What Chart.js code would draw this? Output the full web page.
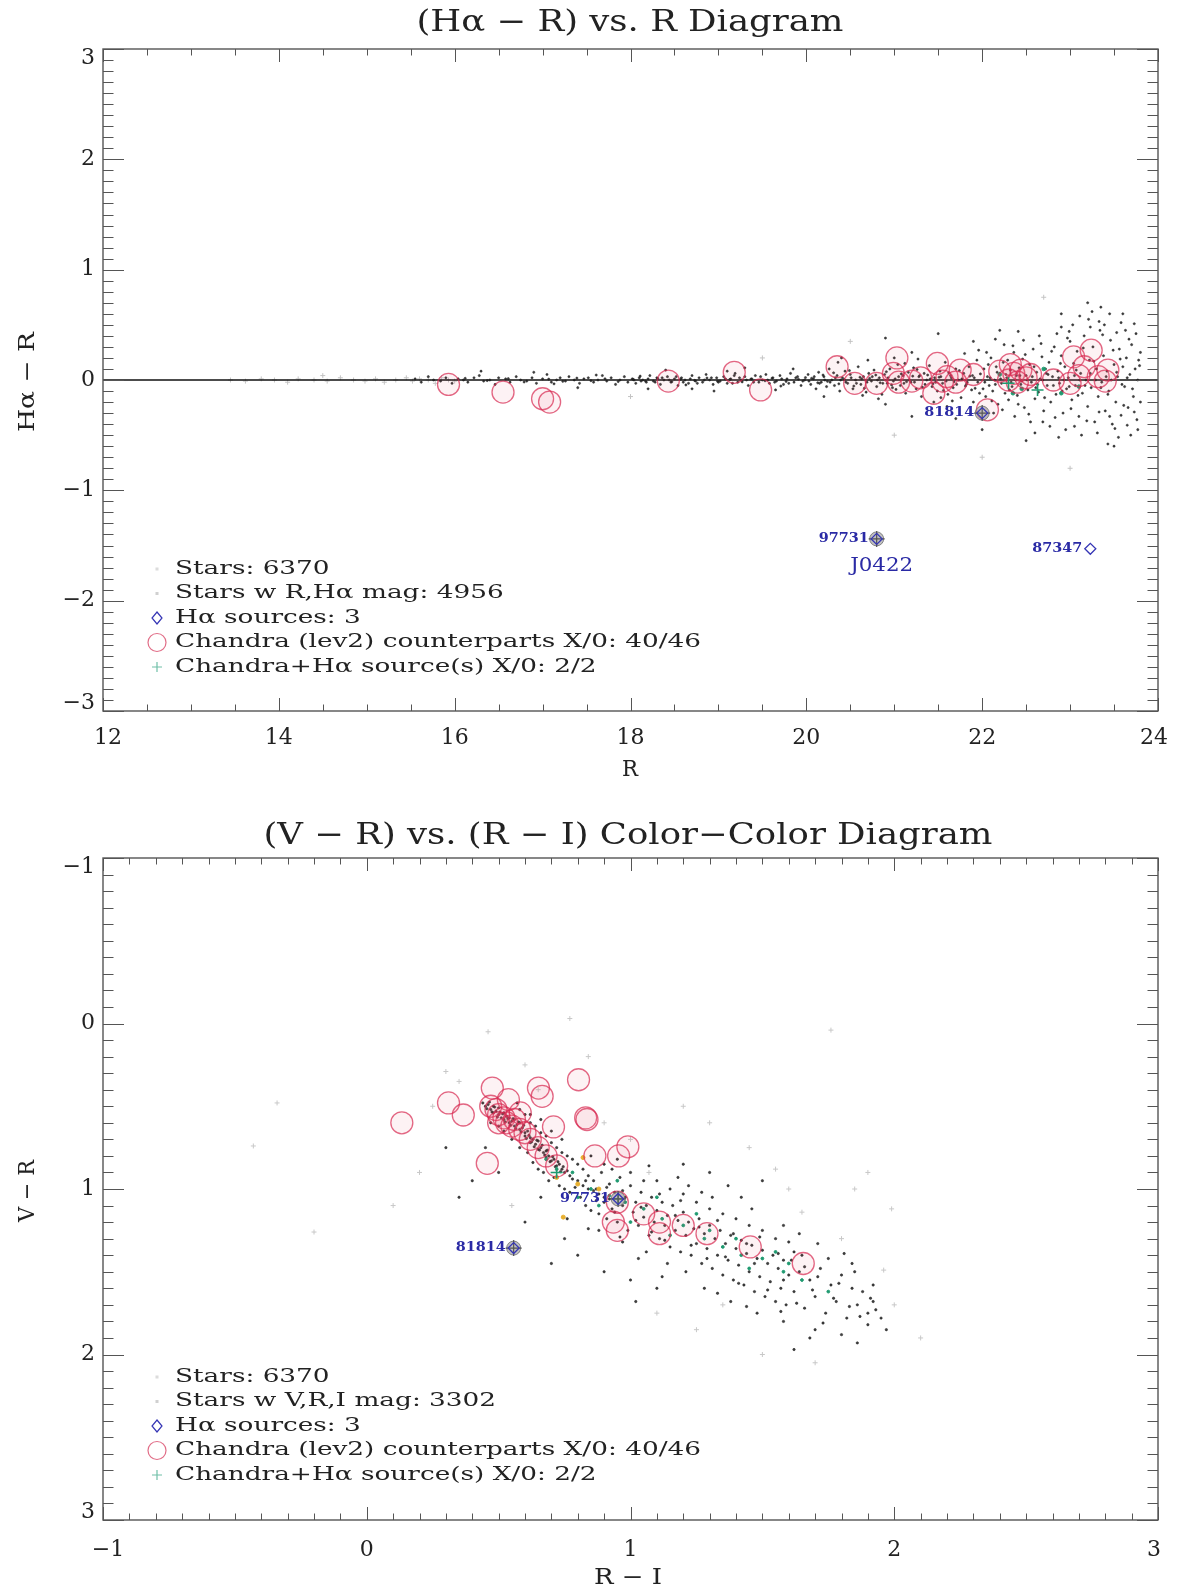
<!DOCTYPE html>
<html><head><meta charset="utf-8">
<script src="https://cdn.jsdelivr.net/npm/chart.js@4/dist/chart.umd.min.js"></script>
<style>
html,body{margin:0;padding:0;background:#fff;width:1180px;height:1593px;overflow:hidden}
canvas{position:absolute;left:0}
#c1{top:0}
#c2{top:800px}
</style></head><body>
<canvas id="c1" width="1180" height="800"></canvas>
<canvas id="c2" width="1180" height="793"></canvas>
<script>
// ================= DATA : top panel (Hα − R) vs R =================
const topTitle = "(H\u03b1 \u2212 R) vs. R Diagram";
const topXTicks = [12, 14, 16, 18, 20, 22, 24];
const topYTicks = [-3, -2, -1, 0, 1, 2, 3];
const topLegend = ["Stars: 6370", "Stars w R,H\u03b1 mag: 4956", "H\u03b1 sources: 3",
  "Chandra (lev2) counterparts X/0: 40/46", "Chandra+H\u03b1 source(s) X/0: 2/2"];
const zeroLine = [[12, 0], [24, 0]];
const allStarsTop = [[13.45,0.00],[13.62,-0.01],[13.8,0.01],[13.95,0.0],[14.1,-0.02],[14.22,0.01],[14.4,0.0],[14.55,-0.01],[14.7,0.02],[14.85,0.0],[14.98,-0.01],[15.1,0.01],[15.2,-0.02],[15.33,0.0],[15.45,0.02],[15.52,-0.01],[15.6,0.01],[15.7,0.0],[15.78,-0.03],[15.85,0.02],[15.93,0.0],[16.0,-0.01],[21.0,-0.5],[22.0,-0.7],[20.5,0.35],[23.0,-0.8],[14.5,0.04],[19.5,0.2],[18.0,-0.15],[22.7,0.75]];
const haStars = [[15.55,0.01],[15.62,-0.02],[15.7,0.03],[15.76,0.0],[15.84,-0.01],[15.9,0.02],[15.97,-0.03],[16.04,0.01],[16.1,0.0],[16.15,-0.02],[16.22,0.02],[16.28,0.04],[16.33,-0.01],[16.4,0.0],[16.46,-0.04],[16.5,0.02],[16.58,0.01],[16.63,-0.02],[16.7,0.03],[16.75,0.0],[16.82,-0.01],[16.88,0.02],[16.93,-0.03],[17.0,0.01],[17.05,0.05],[17.1,-0.02],[17.16,0.0],[17.2,0.02],[17.26,-0.01],[17.3,0.03],[17.36,0.0],[17.42,-0.03],[17.47,0.01],[17.52,0.02],[17.58,-0.02],[17.63,0.0],[17.68,0.04],[17.73,-0.01],[17.78,0.02],[17.83,-0.04],[17.88,0.0],[17.93,0.03],[17.97,-0.02],[16.3,0.08],[17.4,-0.07],[16.9,0.07],
[18.02,0.01],[18.06,-0.03],[18.1,0.02],[18.14,0.0],[18.18,-0.02],[18.22,0.04],[18.26,-0.01],[18.3,0.02],[18.34,-0.04],[18.38,0.0],[18.42,0.03],[18.46,-0.02],[18.5,0.01],[18.54,-0.05],[18.58,0.02],[18.62,0.0],[18.66,-0.03],[18.7,0.04],[18.74,-0.01],[18.78,0.02],[18.82,-0.02],[18.86,0.05],[18.9,0.0],[18.94,-0.04],[18.98,0.02],[19.02,-0.01],[19.06,0.03],[19.1,-0.03],[19.14,0.01],[19.18,0.04],[19.22,-0.02],[19.26,0.0],[19.3,0.03],[19.34,-0.05],[19.38,0.01],[19.42,0.04],[19.46,-0.02],[19.5,0.0],[19.54,0.05],[19.58,-0.03],[19.62,0.02],[19.66,-0.01],[19.7,0.04],[19.74,-0.04],[19.78,0.01],[19.82,0.06],[19.86,-0.02],[19.9,0.03],[19.94,-0.05],[19.98,0.0],[18.4,0.09],[18.95,-0.1],[19.3,0.11],[19.65,-0.09],[18.2,-0.08],[19.1,0.08],[19.85,0.1],[18.7,-0.08],
[18.04,0.0],[18.12,-0.01],[18.2,0.01],[18.28,-0.02],[18.36,0.02],[18.44,0.0],[18.52,0.03],[18.6,-0.02],[18.68,0.01],[18.76,-0.03],[18.84,0.0],[18.92,0.02],[19.0,-0.02],[19.08,0.01],[19.16,-0.03],[19.24,0.02],[19.32,0.0],[19.4,-0.02],[19.48,0.03],[19.56,0.0],[19.64,-0.02],[19.72,0.01],[19.8,-0.03],[19.88,0.02],[19.96,-0.01],
[16.12,0.015],[16.37,-0.005],[16.61,0.012],[16.79,-0.018],[17.07,0.008],[17.23,-0.012],[17.39,0.017],[17.55,-0.006],[17.71,0.011],[17.86,-0.014],[18.03,0.006],[18.17,-0.009],[18.31,0.013],[18.47,-0.016],[18.57,0.007],[18.73,-0.004],[18.87,0.018],[18.99,-0.011],[19.13,0.005],[19.27,-0.017],[19.37,0.009],[19.53,-0.007],[19.61,0.016],[19.77,-0.013],[19.91,0.007],[19.99,0.022],[18.11,0.035],[18.63,-0.045],[19.19,0.06],[19.71,-0.055],[17.61,0.045],[17.13,-0.035],
[20.02,0.05],[20.05,-0.04],[20.08,0.01],[20.11,-0.08],[20.14,0.07],[20.17,-0.02],[20.2,0.03],[20.23,-0.06],[20.26,0.1],[20.29,0.0],[20.32,-0.05],[20.35,0.04],[20.38,-0.1],[20.41,0.02],[20.44,0.08],[20.47,-0.03],[20.5,0.05],[20.53,-0.08],[20.56,0.0],[20.59,0.12],[20.62,-0.04],[20.65,0.03],[20.68,-0.11],[20.71,0.06],[20.74,-0.01],[20.77,0.09],[20.8,-0.06],[20.83,0.02],[20.86,-0.13],[20.89,0.05],[20.92,-0.03],[20.95,0.1],[20.98,-0.07],[21.01,0.01],[21.04,0.14],[21.07,-0.05],[21.1,0.04],[21.13,-0.12],[21.16,0.07],[21.19,-0.02],[21.22,0.11],[21.25,-0.08],[21.28,0.03],[21.31,-0.15],[21.34,0.06],[21.37,0.0],[21.4,0.13],[21.43,-0.06],[21.46,0.02],[21.49,-0.1],[21.52,0.08],[21.55,-0.03],[21.58,0.16],[21.61,-0.13],[21.64,0.04],[21.67,-0.07],[21.7,0.1],[21.73,0.0],[21.76,-0.16],[21.79,0.06],[21.82,-0.04],[21.85,0.12],[21.88,-0.09],[21.91,0.02],[21.94,0.18],[21.97,-0.12],
[20.03,-0.01],[20.09,0.03],[20.15,-0.03],[20.21,0.0],[20.27,-0.02],[20.33,0.02],[20.39,0.0],[20.45,-0.02],[20.51,0.02],[20.57,-0.03],[20.63,0.01],[20.69,-0.02],[20.75,0.03],[20.81,0.0],[20.87,-0.03],[20.93,0.02],[20.99,-0.01],[21.05,0.03],[21.11,-0.03],[21.17,0.0],[21.23,-0.02],[21.29,0.04],[21.35,-0.04],[21.41,0.01],[21.47,-0.02],[21.53,0.03],[21.59,-0.01],[21.65,0.02],[21.71,-0.04],[21.77,0.01],[21.83,-0.02],[21.89,0.04],[21.95,-0.02],
[20.06,0.015],[20.13,-0.025],[20.19,0.045],[20.24,-0.012],[20.31,0.065],[20.37,-0.035],[20.43,0.005],[20.49,0.085],[20.54,-0.055],[20.61,0.025],[20.66,-0.075],[20.72,0.015],[20.79,0.045],[20.84,-0.025],[20.91,0.075],[20.97,-0.045],[21.02,-0.085],[21.08,0.055],[21.14,-0.015],[21.21,0.035],[21.26,0.095],[21.32,-0.065],[21.38,0.045],[21.44,-0.035],[21.51,0.025],[21.56,-0.095],[21.62,0.065],[21.68,-0.015],[21.74,0.085],[21.81,-0.055],[21.86,0.035],[21.92,-0.075],[21.98,0.055],[20.36,0.16],[20.82,-0.17],[21.27,0.19],[21.66,-0.19],[21.96,0.27],[20.64,-0.14],[21.12,0.15],[21.53,-0.16],
[20.4,0.2],[20.9,-0.22],[21.2,0.25],[21.45,-0.2],[21.8,0.24],[20.7,0.18],[21.6,-0.24],[21.9,-0.2],[20.2,-0.15],[21.0,0.2],
[22.02,0.1],[22.04,-0.15],[22.06,0.03],[22.08,-0.05],[22.1,0.2],[22.12,-0.1],[22.14,0.0],[22.16,0.12],[22.18,-0.22],[22.2,0.06],[22.22,-0.03],[22.24,0.16],[22.26,-0.12],[22.28,0.02],[22.3,-0.18],[22.32,0.09],[22.34,-0.06],[22.36,0.25],[22.38,0.0],[22.4,-0.14],[22.42,0.11],[22.44,-0.04],[22.46,0.19],[22.48,-0.25],[22.5,0.04],[22.52,-0.09],[22.54,0.14],[22.56,-0.02],[22.58,0.28],[22.6,-0.17],[22.62,0.07],[22.64,-0.11],[22.66,0.01],[22.68,0.21],[22.7,-0.28],[22.72,0.1],[22.74,-0.05],[22.76,0.16],[22.78,-0.2],[22.8,0.03],[22.82,0.3],[22.84,-0.13],[22.86,0.08],[22.88,-0.03],[22.9,0.22],[22.92,-0.3],[22.94,0.12],[22.96,-0.08],[22.98,0.02],[23.0,0.35],[23.02,-0.18],[23.04,0.15],[23.06,-0.05],[23.08,0.26],[23.1,-0.33],[23.12,0.06],[23.14,-0.12],[23.16,0.4],[23.18,0.0],[23.2,-0.24],[23.22,0.18],[23.24,-0.07],[23.26,0.3],[23.28,-0.38],[23.3,0.1],[23.32,-0.15],[23.34,0.45],[23.36,-0.02],[23.38,0.22],[23.4,-0.28],[23.42,0.08],[23.44,-0.1],[23.46,0.36],[23.48,-0.4],[23.5,0.14],[23.52,-0.2],[23.54,0.03],[23.56,0.28],[23.58,-0.32],[23.6,0.12],[23.62,-0.06],[23.64,0.2],[23.66,-0.25],[23.68,0.05],[23.7,0.32],[23.72,-0.15],[23.74,0.1],[23.76,-0.36],[23.78,0.18],
[22.03,-0.02],[22.09,0.02],[22.15,-0.04],[22.21,0.01],[22.27,0.05],[22.33,-0.02],[22.39,0.04],[22.45,-0.01],[22.51,0.0],[22.57,0.03],[22.63,-0.04],[22.69,0.0],[22.75,0.05],[22.81,-0.05],[22.87,0.02],[22.93,0.0],[22.99,-0.06],[23.05,0.04],[23.11,0.0],[23.17,-0.05],[23.23,0.06],[23.29,0.0],[23.35,-0.07],[23.41,0.03],[23.47,0.0],[23.53,0.07],[23.59,-0.04],[23.65,0.02],[23.71,-0.08],[23.77,0.0],
[22.01,-0.08],[22.07,0.14],[22.11,-0.19],[22.17,0.07],[22.23,-0.27],[22.29,0.18],[22.31,-0.09],[22.35,0.31],[22.41,-0.22],[22.43,0.04],[22.49,0.23],[22.53,-0.31],[22.59,0.12],[22.61,-0.07],[22.67,0.33],[22.71,-0.16],[22.73,0.06],[22.79,0.26],[22.83,-0.34],[22.89,0.15],[22.91,-0.1],[22.97,0.38],[23.01,-0.26],[23.07,0.09],[23.09,-0.14],[23.15,0.29],[23.19,-0.37],[23.27,0.17],[23.33,-0.29],[23.37,0.41],[23.43,-0.13],[23.49,0.27],[23.51,-0.44],[23.57,0.19],[23.61,-0.23],[23.67,0.37],[23.73,-0.29],[23.79,0.13],[23.45,-0.33],[23.23,0.48],[22.99,0.44],[22.69,-0.38],[23.33,0.53],[23.53,0.43],[23.65,-0.41],[23.73,0.51],[22.15,0.37],[22.41,0.44],[22.87,-0.52],[23.11,0.58],
[22.05,0.25],[22.13,-0.3],[22.25,0.32],[22.37,-0.33],[22.47,0.36],[22.55,-0.38],[22.65,0.4],[22.77,-0.42],[22.85,0.42],[22.95,-0.45],[23.03,0.5],[23.13,-0.5],[23.21,0.55],[23.31,-0.48],[23.39,0.5],[23.45,0.6],[23.55,-0.52],[23.63,0.45],[23.69,-0.5],[23.75,0.42],[23.25,0.62],[23.58,0.52],[22.6,-0.48],[22.9,0.48],[23.05,-0.42],[23.43,-0.58],[23.77,-0.45],
[23.2,0.7],[23.35,0.66],[22.9,0.6],[23.6,0.6],[23.5,-0.6],[22.5,-0.55],[22.2,0.45],[21.9,0.35],[21.7,-0.35],[23.8,0.25],[23.8,-0.2],[21.5,0.42],[22.0,-0.45],[21.2,-0.33],[20.9,0.38]];
const chandraTop = [[15.93,-0.04],[16.55,-0.11],[17.0,-0.17],[17.08,-0.2],[18.43,-0.01],[19.18,0.07],[19.48,-0.09],[20.35,0.12],[20.8,-0.03],[21.03,0.2],[20.99,0.06],[21.05,-0.02],[21.49,0.15],[21.6,0.03],[21.75,0.09],[21.45,-0.12],[21.55,-0.01],[21.7,-0.02],[22.06,-0.27],[22.32,0.14],[22.36,0.06],[22.44,0.09],[22.3,0.0],[22.5,0.02],[22.4,-0.02],[22.81,0.0],[22.55,0.05],[23.04,0.21],[23.16,0.12],[23.24,0.27],[23.32,0.03],[23.43,0.09],[23.4,-0.01],[23.1,0.04],[21.2,-0.01],[21.3,0.02],[20.55,-0.03],[22.2,0.08],[21.9,0.05],[23.0,-0.03]];
const comboTop = [[22.3,-0.03],[22.63,-0.09]];
const hSourceTop = [[22.0,-0.3],[20.8,-1.44],[23.23,-1.53]];
const hSourceTopNames = ["81814", "97731", "87347"];
const xrayHaTop = [[22.0,-0.3],[20.8,-1.44]];
const tealTop = [[22.2,0.05],[22.45,-0.08],[22.7,0.1],[22.9,-0.12],[23.1,-0.06],[22.35,-0.12]];

// ================= DATA : bottom panel (V − R) vs (R − I) =================
const botTitle = "(V \u2212 R) vs. (R \u2212 I) Color\u2212Color Diagram";
const botXTicks = [-1, 0, 1, 2, 3];
const botYTicks = [-1, 0, 1, 2, 3];
const botLegend = ["Stars: 6370", "Stars w V,R,I mag: 3302", "H\u03b1 sources: 3",
  "Chandra (lev2) counterparts X/0: 40/46", "Chandra+H\u03b1 source(s) X/0: 2/2"];
const allStarsBot = [[-0.34,0.48],[-0.2,1.26],[0.3,0.29],[0.46,0.05],[1.76,0.04],[1.55,0.88],[1.96,1.49],[1.99,1.12],[1.65,1.14],[-0.43,0.74],[1.07,0.9],[0.84,0.2],[0.77,-0.03],[1.3,0.6],[1.45,0.75],[1.8,1.3],[2.1,1.9],[0.2,0.9],[0.1,1.1],[0.6,0.25],[1.2,0.5],[1.9,0.9],[1.7,2.05],[1.5,2.0],[0.35,0.35],[2.0,1.7],[1.35,1.7],[0.55,1.1],[0.25,0.5],[0.65,0.4],[0.9,0.6],[1.0,0.7],[1.85,1.0],[1.6,1.0],[1.1,1.75],[1.25,1.85]];
const vriStars = [[0.44,0.48],[0.45,0.5],[0.46,0.49],[0.47,0.52],[0.48,0.5],[0.48,0.54],[0.49,0.53],[0.5,0.55],[0.5,0.51],[0.51,0.57],[0.52,0.54],[0.52,0.58],[0.53,0.56],[0.54,0.6],[0.54,0.57],[0.55,0.59],[0.56,0.62],[0.56,0.58],[0.57,0.61],[0.58,0.64],[0.58,0.6],[0.59,0.63],[0.6,0.66],[0.6,0.68],[0.61,0.65],[0.62,0.69],[0.62,0.72],[0.63,0.7],[0.64,0.73],[0.65,0.71],[0.65,0.76],[0.66,0.75],[0.67,0.78],[0.68,0.77],[0.68,0.81],[0.69,0.8],[0.7,0.83],[0.71,0.82],[0.72,0.86],[0.73,0.85],[0.74,0.88],[0.75,0.9],[0.76,0.89],[0.77,0.92],[0.78,0.94],[0.8,0.95],[0.82,0.98],[0.84,1.0],[0.86,1.01],[0.88,1.03],[0.9,1.05],[0.92,1.06],
[0.455,0.515],[0.465,0.475],[0.475,0.535],[0.485,0.505],[0.495,0.565],[0.505,0.535],[0.515,0.545],[0.525,0.595],[0.535,0.575],[0.545,0.615],[0.555,0.575],[0.565,0.635],[0.575,0.595],[0.585,0.655],[0.595,0.615],[0.605,0.695],[0.615,0.675],[0.625,0.715],[0.635,0.745],[0.645,0.705],[0.655,0.765],[0.665,0.735],[0.675,0.795],[0.685,0.765],[0.695,0.835],[0.705,0.805],[0.715,0.865],[0.725,0.835],[0.735,0.895],[0.745,0.865],
[0.55,0.7],[0.57,0.48],[0.58,0.75],[0.6,0.55],[0.61,0.78],[0.62,0.6],[0.63,0.84],[0.64,0.62],[0.65,0.88],[0.66,0.66],[0.67,0.9],[0.68,0.68],[0.69,0.95],[0.7,0.72],[0.71,0.93],[0.72,0.75],[0.73,0.98],[0.74,0.78],[0.75,1.0],[0.76,0.8],[0.77,1.02],[0.78,0.82],[0.79,0.99],[0.8,0.85],[0.52,0.65],[0.5,0.62],[0.47,0.6],[0.58,0.52],[0.62,0.55],[0.66,0.58],[0.7,0.65],[0.74,0.7],
[0.81,1.05],[0.82,0.88],[0.83,1.1],[0.84,0.92],[0.85,1.13],[0.86,0.95],[0.87,1.0],[0.88,1.15],[0.89,0.9],[0.9,1.08],[0.91,1.18],[0.92,0.97],[0.93,1.12],[0.94,1.02],[0.95,1.2],[0.96,0.93],[0.97,1.1],[0.98,1.05],[0.99,1.25],[1.0,0.98],[1.01,1.14],[1.02,1.08],[1.03,1.22],[1.04,1.02],[1.05,1.17],[1.06,1.1],[1.07,1.28],[1.08,1.05],[1.09,1.2],[1.1,1.13],[1.11,1.3],[1.12,1.08],[1.13,1.22],[1.14,1.16],[1.15,1.35],[1.16,1.1],[1.17,1.25],[1.18,1.19],[1.19,1.38],[1.2,1.14],[0.85,0.8],[0.9,0.85],[0.95,0.82],[1.0,0.9],[1.05,0.95],[1.1,0.95],[1.15,1.0],[1.2,1.03],[0.88,1.25],[0.97,1.32],[1.06,1.38],[1.14,1.45],
[1.21,1.28],[1.22,1.2],[1.23,1.4],[1.24,1.24],[1.25,1.33],[1.26,1.18],[1.27,1.45],[1.28,1.27],[1.29,1.36],[1.3,1.22],[1.31,1.48],[1.32,1.3],[1.33,1.4],[1.34,1.25],[1.35,1.52],[1.36,1.33],[1.37,1.43],[1.38,1.28],[1.39,1.55],[1.4,1.36],[1.41,1.46],[1.42,1.31],[1.43,1.58],[1.44,1.39],[1.45,1.5],[1.46,1.34],[1.47,1.62],[1.48,1.42],[1.49,1.53],[1.5,1.37],[1.51,1.65],[1.52,1.45],[1.53,1.56],[1.54,1.4],[1.55,1.68],[1.56,1.48],[1.57,1.6],[1.58,1.43],[1.59,1.7],[1.6,1.52],[1.25,1.08],[1.3,1.12],[1.35,1.15],[1.4,1.18],[1.45,1.22],[1.5,1.25],[1.55,1.3],[1.6,1.32],[1.28,1.6],[1.38,1.68],[1.48,1.75],[1.58,1.8],[1.22,0.98],[1.42,1.05],
[1.62,1.62],[1.64,1.5],[1.66,1.72],[1.68,1.55],[1.7,1.65],[1.72,1.48],[1.74,1.75],[1.76,1.58],[1.78,1.68],[1.8,1.52],[1.82,1.78],[1.84,1.6],[1.86,1.7],[1.88,1.62],[1.9,1.75],[1.92,1.68],[1.65,1.4],[1.75,1.42],[1.85,1.5],[1.7,1.85],[1.8,1.88],[1.9,1.82],[1.95,1.78],[1.62,1.38],[1.68,1.9],
[0.83,0.95],[0.87,1.07],[0.91,0.99],[0.94,1.14],[0.97,1.01],[1.02,1.19],[1.04,1.11],[1.08,1.26],[1.11,1.03],[1.13,1.31],[1.17,1.16],[1.19,1.07],[1.23,1.34],[1.26,1.23],[1.29,1.42],[1.33,1.19],[1.36,1.41],[1.39,1.27],[1.41,1.57],[1.44,1.33],[1.47,1.45],[1.49,1.29],[1.52,1.61],[1.56,1.39],[1.58,1.55],[1.61,1.43],[1.63,1.69],[1.66,1.47],[1.69,1.61],[1.71,1.53],[1.73,1.81],[1.77,1.66],[1.79,1.57],[1.83,1.71],[1.87,1.77],[1.91,1.66],[1.93,1.73],[0.96,1.29],[1.03,1.42],[1.12,1.53],[1.21,1.5],[1.33,1.63],[1.44,1.71],[1.57,1.74],[1.18,0.93],[1.31,1.05],[1.46,1.12],[1.58,1.22],[1.71,1.33],[1.84,1.45],[0.93,0.88],[1.07,0.86],[1.37,0.98],[1.64,1.27],[1.81,1.39],[1.92,1.58],[1.97,1.85],[1.86,1.93],[1.62,1.97],[1.02,1.68],[0.76,1.18],[0.66,1.05],[0.84,1.24],[1.27,1.02],
[0.3,0.75],[0.4,0.95],[0.35,1.05],[0.6,1.2],[0.75,1.3],[0.8,1.4],[0.7,1.45],[1.0,1.55],[1.1,1.6],[0.9,1.5],[1.3,0.9],[1.5,0.95],[1.2,0.85],[0.5,0.9],[0.45,0.75]];
const greenBot = [[0.72,0.88],[0.78,0.9],[0.85,1.0],[0.92,1.04],[0.98,1.08],[1.05,1.12],[1.12,1.18],[1.2,1.22],[1.28,1.3],[1.35,1.35],[1.42,1.4],[1.5,1.42],[1.58,1.5],[1.65,1.55],[0.88,1.1],[1.0,1.2],[1.15,1.28],[1.3,1.25],[1.45,1.48],[1.55,1.38],[0.95,0.95],[1.1,1.05],[1.25,1.15],[1.4,1.3],[1.6,1.45],[1.75,1.62],[0.8,1.05],[0.68,0.82]];
const yellowBot = [[0.8,0.97],[0.745,1.17],[0.82,0.81],[0.72,0.93],[0.88,1.0]];
const chandraBot = [[0.133,0.6],[0.31,0.48],[0.366,0.553],[0.476,0.39],[0.537,0.46],[0.651,0.39],[0.665,0.44],[0.803,0.34],[0.582,0.54],[0.708,0.625],[0.83,0.57],[0.835,0.58],[0.99,0.745],[0.955,0.8],[0.865,0.8],[0.457,0.845],[0.935,1.2],[0.95,1.25],[1.11,1.2],[1.11,1.27],[1.29,1.27],[1.454,1.35],[1.655,1.45],[0.47,0.5],[0.49,0.52],[0.5,0.55],[0.52,0.57],[0.53,0.6],[0.55,0.62],[0.56,0.58],[0.58,0.64],[0.6,0.66],[0.62,0.7],[0.65,0.75],[0.68,0.8],[0.72,0.86],[0.5,0.6],[0.95,1.08],[1.05,1.15],[1.2,1.22]];
const comboBot = [[0.953,1.06],[0.72,0.9]];
const hSourceBot = [[0.557,1.357],[0.953,1.06]];
const hSourceBotNames = ["81814", "97731"];
const xrayHaBot = [[0.557,1.357],[0.953,1.06]];

// ================= helpers =================
const SERIF = '"DejaVu Serif", "Liberation Serif", serif';
const pts = a => a.map(p => ({x: p[0], y: p[1]}));
const fmt = v => (v < 0 ? "\u2212" + Math.abs(v) : String(v));

function fitText(ctx, text, x, y, font, target, align, rot) {
  ctx.save();
  ctx.font = font;
  const w = ctx.measureText(text).width;
  const s = target ? target / w : 1;
  ctx.translate(x, y);
  if (rot) ctx.rotate(rot);
  ctx.scale(s, 1);
  ctx.textAlign = align || 'left';
  ctx.textBaseline = 'middle';
  ctx.fillText(text, 0, 0);
  ctx.restore();
}

function drawMarker(ctx, kind, x, y) {
  ctx.save();
  ctx.lineWidth = 1.2;
  if (kind === 'dotLight') { ctx.fillStyle = '#dcdcdc'; ctx.fillRect(x - 1.5, y - 1.5, 3, 3); }
  else if (kind === 'dot') { ctx.fillStyle = '#d0d0d0'; ctx.fillRect(x - 1.5, y - 1.5, 3, 3); }
  else if (kind === 'diamond') { ctx.strokeStyle = '#3535b5'; ctx.beginPath(); ctx.moveTo(x, y - 6); ctx.lineTo(x + 5, y); ctx.lineTo(x, y + 6); ctx.lineTo(x - 5, y); ctx.closePath(); ctx.stroke(); }
  else if (kind === 'circle') { ctx.strokeStyle = 'rgba(215,60,95,0.75)'; ctx.beginPath(); ctx.arc(x, y, 9, 0, Math.PI * 2); ctx.stroke(); }
  else if (kind === 'plus') { ctx.strokeStyle = '#70c0a8'; ctx.beginPath(); ctx.moveTo(x - 5, y); ctx.lineTo(x + 5, y); ctx.moveTo(x, y - 5); ctx.lineTo(x, y + 5); ctx.stroke(); }
  ctx.restore();
}

function framePlugin(cfg) {
  return {
    id: 'frame_' + cfg.key,
    afterDatasetsDraw(chart) {
      const ctx = chart.ctx, a = chart.chartArea, xs = chart.scales.x, ys = chart.scales.y;
      ctx.save();
      // source labels
      ctx.fillStyle = '#2a2aa5';
      cfg.srcPts.forEach((p, i) => {
        const px = xs.getPixelForValue(p[0]), py = ys.getPixelForValue(p[1]);
        fitText(ctx, cfg.srcNames[i], px - 8, py, 'bold 13px ' + SERIF, 50, 'right');
        if (cfg.extraLabel && i === cfg.extraLabel.idx) {
          fitText(ctx, cfg.extraLabel.text, px + 5, py + 27, '18px ' + SERIF, 63, 'center');
        }
      });
      // frame box
      ctx.strokeStyle = '#555';
      ctx.lineWidth = 1.4;
      ctx.strokeRect(a.left, a.top, a.right - a.left, a.bottom - a.top);
      ctx.lineWidth = 1;
      const isMaj = (v, arr) => arr.some(t => Math.abs(t - v) < 1e-6);
      const nx = Math.round((xs.max - xs.min) / cfg.xMinor);
      ctx.beginPath();
      for (let i = 0; i <= nx; i++) {
        const v = xs.min + i * cfg.xMinor;
        const len = isMaj(v, cfg.xTicks) ? 13 : 6.5;
        const px = Math.round(xs.getPixelForValue(v)) + 0.5;
        ctx.moveTo(px, a.bottom); ctx.lineTo(px, a.bottom - len);
        ctx.moveTo(px, a.top); ctx.lineTo(px, a.top + len);
      }
      const ny = Math.round((ys.max - ys.min) / cfg.yMinor);
      for (let i = 0; i <= ny; i++) {
        const v = ys.min + i * cfg.yMinor;
        const len = isMaj(v, cfg.yTicks) ? 21 : 10.5;
        const py = Math.round(ys.getPixelForValue(v)) + 0.5;
        ctx.moveTo(a.left, py); ctx.lineTo(a.left + len, py);
        ctx.moveTo(a.right, py); ctx.lineTo(a.right - len, py);
      }
      ctx.stroke();
      // tick labels
      ctx.fillStyle = '#222';
      ctx.font = '22px ' + SERIF;
      ctx.textBaseline = 'middle';
      ctx.textAlign = 'center';
      cfg.xTicks.forEach((t, i) => {
        let px = xs.getPixelForValue(t);
        if (i === 0) px += 5;
        if (i === cfg.xTicks.length - 1) px -= 4;
        ctx.fillText(fmt(t), px, cfg.xLabelY);
      });
      ctx.textAlign = 'right';
      cfg.yTicks.forEach(t => {
        let py = ys.getPixelForValue(t);
        if (Math.abs(py - a.top) < 1) py += 9;
        if (Math.abs(py - a.bottom) < 1) py -= 8;
        ctx.fillText(fmt(t), a.left - 8, py);
      });
      // titles
      fitText(ctx, cfg.title, cfg.titleX, cfg.titleY, '30px ' + SERIF, cfg.titleW, 'center');
      fitText(ctx, cfg.xTitle, cfg.titleX, cfg.xTitleY, '22px ' + SERIF, cfg.xTitleW, 'center');
      fitText(ctx, cfg.yTitle, 28, cfg.yTitleY, '22px ' + SERIF, cfg.yTitleW, 'center', -Math.PI / 2);
      // legend
      ctx.font = '19px ' + SERIF;
      const longW = ctx.measureText(cfg.legend[3]).width;
      const sx = 526 / longW;
      const kinds = ['dotLight', 'dot', 'diamond', 'circle', 'plus'];
      cfg.legend.forEach((txt, i) => {
        const ly = cfg.legendY + i * 24.5;
        drawMarker(ctx, kinds[i], 157, ly);
        ctx.save();
        ctx.fillStyle = '#222';
        ctx.translate(175, ly); ctx.scale(sx, 1);
        ctx.textAlign = 'left'; ctx.textBaseline = 'middle';
        ctx.font = '19px ' + SERIF;
        ctx.fillText(txt, 0, 0);
        ctx.restore();
      });
      ctx.restore();
    }
  };
}

function scatterSet(data, opts, order) {
  return Object.assign({type: 'scatter', data: pts(data), order: order, pointBorderWidth: 1}, opts);
}

Chart.defaults.font.family = SERIF;

// ================= top chart =================
new Chart(document.getElementById('c1'), {
  type: 'scatter',
  data: {
    datasets: [
      scatterSet(hSourceTop, {pointStyle: 'rectRot', pointRadius: 5.5, borderColor: '#3535b5', backgroundColor: 'rgba(0,0,0,0)', pointBorderWidth: 1.3}, 0),
      scatterSet(xrayHaTop, {pointStyle: 'cross', pointRadius: 8, borderColor: '#555', pointBorderWidth: 1.2}, 1),
      scatterSet(xrayHaTop, {pointStyle: 'circle', pointRadius: 7, borderColor: 'rgba(110,110,110,0.8)', backgroundColor: 'rgba(140,140,140,0.55)'}, 2),
      scatterSet(comboTop, {pointStyle: 'cross', pointRadius: 6, borderColor: '#1f9a70', pointBorderWidth: 1.6}, 3),
      scatterSet(chandraTop, {pointStyle: 'circle', pointRadius: 11, borderColor: 'rgba(215,40,80,0.7)', backgroundColor: 'rgba(230,90,120,0.08)', pointBorderWidth: 1.3}, 4),
      scatterSet(tealTop, {pointStyle: 'circle', pointRadius: 1.8, borderColor: '#1f9a70', backgroundColor: '#1f9a70'}, 5),
      scatterSet(haStars, {pointStyle: 'circle', pointRadius: 1.1, borderColor: 'rgba(30,30,30,0.85)', backgroundColor: 'rgba(30,30,30,0.85)', pointBorderWidth: 0.6}, 6),
      {type: 'line', data: pts(zeroLine), borderColor: '#111', borderWidth: 1.5, pointRadius: 0, order: 7},
      scatterSet(allStarsTop, {pointStyle: 'cross', pointRadius: 2.5, borderColor: '#c4c4c4', pointBorderWidth: 1}, 8)
    ]
  },
  options: {
    responsive: false, animation: false, devicePixelRatio: 1,
    layout: {padding: {left: 103, right: 22, top: 49, bottom: 89}},
    plugins: {legend: {display: false}, tooltip: {enabled: false}, title: {display: false}},
    scales: {
      x: {type: 'linear', min: 12, max: 24, display: false},
      y: {type: 'linear', min: -3, max: 3, display: false}
    }
  },
  plugins: [framePlugin({
    key: 'top', xTicks: topXTicks, yTicks: topYTicks, xMinor: 0.5, yMinor: 0.1,
    xLabelY: 738, title: topTitle, titleX: 630, titleY: 23, titleW: 427,
    xTitle: 'R', xTitleY: 770, xTitleW: 16, yTitle: 'H\u03b1 \u2212 R', yTitleY: 382, yTitleW: 100,
    legend: topLegend, legendY: 569,
    srcPts: hSourceTop, srcNames: hSourceTopNames, extraLabel: {idx: 1, text: 'J0422'}
  })]
});

// ================= bottom chart =================
new Chart(document.getElementById('c2'), {
  type: 'scatter',
  data: {
    datasets: [
      scatterSet(hSourceBot, {pointStyle: 'rectRot', pointRadius: 5.5, borderColor: '#3535b5', backgroundColor: 'rgba(0,0,0,0)', pointBorderWidth: 1.3}, 0),
      scatterSet(xrayHaBot, {pointStyle: 'cross', pointRadius: 8, borderColor: '#555', pointBorderWidth: 1.2}, 1),
      scatterSet(xrayHaBot, {pointStyle: 'circle', pointRadius: 7, borderColor: 'rgba(110,110,110,0.8)', backgroundColor: 'rgba(140,140,140,0.55)'}, 2),
      scatterSet(comboBot, {pointStyle: 'cross', pointRadius: 6, borderColor: '#1f9a70', pointBorderWidth: 1.6}, 3),
      scatterSet(chandraBot, {pointStyle: 'circle', pointRadius: 11, borderColor: 'rgba(215,40,80,0.7)', backgroundColor: 'rgba(230,90,120,0.08)', pointBorderWidth: 1.3}, 4),
      scatterSet(yellowBot, {pointStyle: 'circle', pointRadius: 2, borderColor: '#e8b030', backgroundColor: '#e8b030'}, 5),
      scatterSet(greenBot, {pointStyle: 'circle', pointRadius: 1.4, borderColor: '#1f9a70', backgroundColor: '#1f9a70'}, 6),
      scatterSet(vriStars, {pointStyle: 'circle', pointRadius: 1.2, borderColor: 'rgba(30,30,30,0.85)', backgroundColor: 'rgba(30,30,30,0.85)', pointBorderWidth: 0.6}, 7),
      scatterSet(allStarsBot, {pointStyle: 'cross', pointRadius: 2.5, borderColor: '#c8c8c8', pointBorderWidth: 1}, 8)
    ]
  },
  options: {
    responsive: false, animation: false, devicePixelRatio: 1,
    layout: {padding: {left: 103, right: 22, top: 58, bottom: 73}},
    plugins: {legend: {display: false}, tooltip: {enabled: false}, title: {display: false}},
    scales: {
      x: {type: 'linear', min: -1, max: 3, display: false},
      y: {type: 'linear', min: -1, max: 3, reverse: true, display: false}
    }
  },
  plugins: [framePlugin({
    key: 'bot', xTicks: botXTicks, yTicks: botYTicks, xMinor: 0.1, yMinor: 0.1,
    xLabelY: 750, title: botTitle, titleX: 628, titleY: 36, titleW: 729,
    xTitle: 'R \u2212 I', xTitleY: 778, xTitleW: 68, yTitle: 'V \u2212 R', yTitleY: 391, yTitleW: 62,
    legend: botLegend, legendY: 577,
    srcPts: hSourceBot, srcNames: hSourceBotNames, extraLabel: null
  })]
});
</script>
</body></html>
